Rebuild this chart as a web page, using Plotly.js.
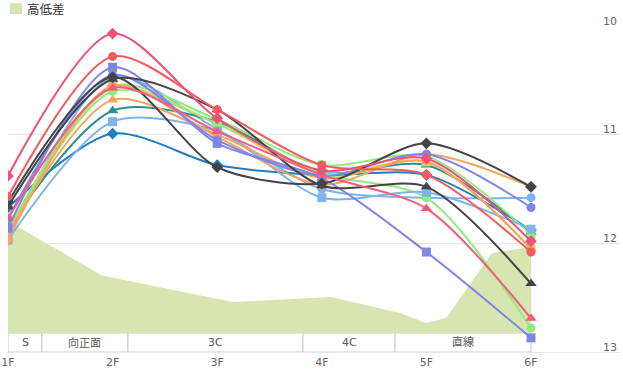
<!DOCTYPE html>
<html><head><meta charset="utf-8">
<script src="https://cdn.plot.ly/plotly-3.0.1.min.js"></script>
<style>html,body{margin:0;padding:0;background:#fff}#c{width:623px;height:372px}</style>
</head><body><div id="c"></div>
<script>
const floors = ['1F','2F','3F','4F','5F','6F'];
const yTicks = [10, 11, 12, 13];

// section band
const sections = ['S','向正面','3C','4C','直線'];
const sectionEnds = [0.325, 1.147, 2.82, 3.70, 5.0];

// elevation profile (高低差)
const elevName = '高低差';
const elevX = [0, 0.899, 2.151, 2.983, 3.088, 3.748, 3.996, 4.187, 4.627, 5.0];
const elevH = [3.9, 2.0, 1.08, 1.25, 1.25, 0.7, 0.35, 0.52, 2.78, 3.0];

// series (values per floor)
const sPinkDiamond  = [11.38, 10.07, 10.85, 11.33, 11.22, 11.98];
const sRedCircle    = [11.57, 10.28, 10.77, 11.28, 11.37, 12.08];
const sPurpleSquare = [11.86, 10.38, 11.08, 11.40, 12.08, 12.87];
const sDarkTriangle = [11.66, 10.49, 10.77, 11.47, 11.48, 12.37];
const sDarkDiamond  = [11.62, 10.47, 11.30, 11.45, 11.08, 11.48];
const sBlueDiamond  = [11.67, 10.99, 11.28, 11.37, 11.37, 11.88];
const sLBlueSquare  = [11.97, 10.88, 10.97, 11.58, 11.53, 11.87];
const sLBlueCircle  = [11.95, 10.47, 10.95, 11.50, 11.58, 11.58];
const sPurpleCircle = [11.77, 10.45, 11.05, 11.38, 11.18, 11.67];
const sOrangeDiamond= [11.97, 10.55, 11.02, 11.46, 11.18, 11.48];
const sOrangeTri    = [11.90, 10.68, 11.00, 11.40, 11.25, 12.05];
const sTealTri      = [11.85, 10.78, 10.88, 11.35, 11.28, 11.90];
const sGreenSquare  = [11.88, 10.55, 10.86, 11.28, 11.20, 11.92];
const sGreenCircle  = [11.90, 10.60, 10.90, 11.36, 11.58, 12.78];
const sYellowSquare = [11.90, 10.57, 10.90, 11.36, 11.25, 12.05];
const sPinkTri      = [11.77, 10.57, 10.97, 11.37, 11.68, 12.69];

const series = [
  {v:sLBlueCircle,  c:'#7cb5ec', m:'circle'},
  {v:sBlueDiamond,  c:'#1f7ec4', m:'diamond'},
  {v:sTealTri,      c:'#2b908f', m:'triangle-up'},
  {v:sYellowSquare, c:'#e4d354', m:'square'},
  {v:sGreenSquare,  c:'#90ed7d', m:'square'},
  {v:sGreenCircle,  c:'#90ed7d', m:'circle'},
  {v:sLBlueSquare,  c:'#7cb5ec', m:'square'},
  {v:sOrangeTri,    c:'#f7a35c', m:'triangle-up'},
  {v:sOrangeDiamond,c:'#f7a35c', m:'diamond'},
  {v:sPurpleCircle, c:'#8085e9', m:'circle'},
  {v:sPurpleSquare, c:'#8085e9', m:'square'},
  {v:sDarkDiamond,  c:'#434348', m:'diamond'},
  {v:sDarkTriangle, c:'#434348', m:'triangle-up'},
  {v:sPinkTri,      c:'#f15c80', m:'triangle-up'},
  {v:sRedCircle,    c:'#f45b5b', m:'circle'},
  {v:sPinkDiamond,  c:'#f0507a', m:'diamond'}
];

const xIdx = floors.map((f,i)=>i);
// elevation on the base y axis (drawn below), time lines on overlaying y2 (drawn above)
const traces = [{
  x: elevX, y: elevH, yaxis:'y', type:'scatter', mode:'lines',
  fill:'tozeroy', fillcolor:'#d7e6b1', line:{width:0, color:'#d7e6b1'},
  name: elevName, showlegend:false, hoverinfo:'skip'
}];
series.forEach(s=>{
  traces.push({
    x: xIdx, y: s.v, yaxis:'y2', type:'scatter', mode:'lines+markers',
    line:{color:s.c, width:2, shape:'spline', smoothing:0.8},
    marker:{color:s.c, symbol:s.m, size: s.m==='triangle-up'?10:9},
    showlegend:false
  });
});

// plot geometry
const W=623, H=372, mL=8, mR=3, mT=26, mB=20;
const pw=W-mL-mR, ph=H-mT-mB;
const pxX = px => (px-mL)/pw;
const pxY = py => (H-mB-py)/ph;
const FONT = 'DejaVu Sans, Noto Sans CJK JP, sans-serif';

const shapes = [];
const annotations = [];
const bandTop = pxY(333);
let start = 0;
sections.forEach((name,i)=>{
  const end = sectionEnds[i];
  shapes.push({type:'rect', xref:'x', yref:'paper', x0:start, x1:end, y0:0, y1:bandTop,
    fillcolor:'#ffffff', line:{color:'#cccccc', width:1}, layer:'below'});
  annotations.push({xref:'x', yref:'paper', x:(start+end)/2, y:bandTop/2, text:name,
    showarrow:false, xanchor:'center', yanchor:'middle',
    font:{family:FONT, size:11, color:'#555555'}});
  start = end;
});
// y tick labels (inside, above gridlines, at right edge)
yTicks.forEach(t=>{
  annotations.push({xref:'paper', yref:'y2', x:1, y:t, text:String(t), showarrow:false,
    xanchor:'right', yanchor:'middle', yshift:5, xshift:-1,
    font:{family:FONT, size:11, color:'#666666'}});
});
// legend
shapes.push({type:'rect', xref:'paper', yref:'paper', x0:pxX(10), x1:pxX(22), y0:pxY(14), y1:pxY(3),
  fillcolor:'#d7e6b1', line:{width:0}});
annotations.push({xref:'paper', yref:'paper', x:pxX(25), y:pxY(8.5), text:elevName, showarrow:false,
  xanchor:'left', yanchor:'middle', font:{family:'Noto Sans CJK JP, sans-serif', size:12.5, color:'#333333'}});

const bottomH = -(H-mB-333)/28.75, topH = (333-mT)/28.75;

const layout = {
  width:W, height:H, margin:{l:mL, r:mR, t:mT, b:mB, pad:0},
  paper_bgcolor:'#fff', plot_bgcolor:'#fff',
  font:{family:FONT, size:11, color:'#666666'},
  xaxis:{range:[0, pw/104.6], tickvals:xIdx, ticktext:floors, showgrid:false, zeroline:false,
    showline:true, linecolor:'#e6e6e6', ticks:'', tickfont:{family:FONT, size:11, color:'#666666'}, fixedrange:true},
  yaxis:{range:[bottomH, topH], showgrid:false, zeroline:false, showticklabels:false, showline:false, ticks:''},
  yaxis2:{overlaying:'y', range:[13,10], tickvals:yTicks, side:'right', showticklabels:false,
    showgrid:true, gridcolor:'#e6e6e6', zeroline:false, showline:false, ticks:''},
  shapes, annotations, showlegend:false
};
Plotly.newPlot('c', traces, layout, {displayModeBar:false, staticPlot:true});
</script></body></html>
